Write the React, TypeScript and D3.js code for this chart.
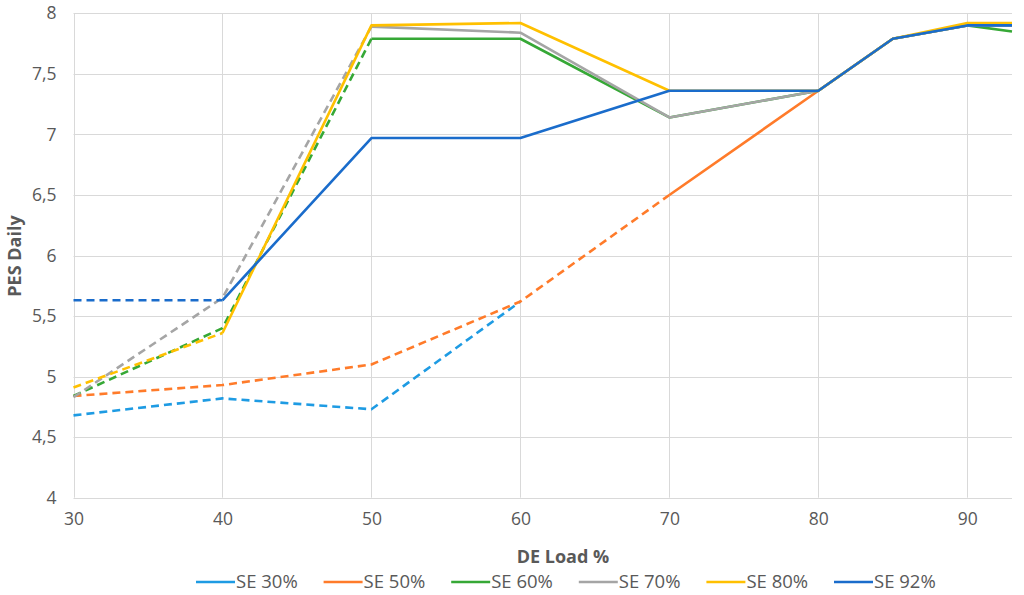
import { useEffect, useRef } from 'react';
import * as d3 from 'd3';

// DE load (%) at which every series was evaluated
const loads = [30, 40, 50, 60, 70, 80, 85, 90, 93];

// PES Daily per SE level (SE 30% only read up to 60 %)
const se30 = [4.68, 4.82, 4.73, 5.62];
const se50 = [4.84, 4.93, 5.1, 5.62, 6.5, 7.36, 7.79, 7.9, 7.9];
const se60 = [4.84, 5.4, 7.79, 7.79, 7.14, 7.36, 7.79, 7.9, 7.85];
const se70 = [4.83, 5.65, 7.89, 7.84, 7.14, 7.36, 7.79, 7.9, 7.9];
const se80 = [4.91, 5.36, 7.9, 7.92, 7.36, 7.36, 7.79, 7.92, 7.92];
const se92 = [5.63, 5.63, 6.97, 6.97, 7.36, 7.36, 7.79, 7.9, 7.9];

const seriesNames = ['SE 30%', 'SE 50%', 'SE 60%', 'SE 70%', 'SE 80%', 'SE 92%'];
const seriesValues = [se30, se50, se60, se70, se80, se92];
// load from which each curve is drawn solid (dashed before it)
const solidFrom = [70, 70, 50, 50, 40, 40];
const seriesColors = ['#1E9BE3', '#FF7B2A', '#36A836', '#A5A5A5', '#FFC000', '#1A6CCB'];

const xTicks = [30, 40, 50, 60, 70, 80, 90];
const yTicks = [4, 4.5, 5, 5.5, 6, 6.5, 7, 7.5, 8];

const FONT = '"Open Sans", "Noto Sans", sans-serif';
const TEXT = '#595959';
const GRID = '#D9D9D9';

export default function App() {
  const svgRef = useRef<SVGSVGElement>(null);
  const width = 1024;
  const height = 595;

  useEffect(() => {
    if (!svgRef.current) return;
    const svg = d3.select(svgRef.current);
    svg.selectAll('*').remove();

    const plot = { left: 73.5, right: 1012, top: 13.3, bottom: 497.7 };

    const x = d3.scaleLinear().domain([30, 93]).range([plot.left, plot.right]);
    const y = d3.scaleLinear().domain([4, 8]).range([plot.bottom, plot.top]);

    const locale = d3.formatLocale({
      decimal: ',',
      thousands: '.',
      grouping: [3],
      currency: ['', ''],
    });
    const fmt = locale.format('~g');

    // gridlines
    const grid = svg.append('g');
    grid
      .selectAll('line.h')
      .data(yTicks)
      .enter()
      .append('line')
      .attr('x1', plot.left)
      .attr('x2', plot.right)
      .attr('y1', (d) => Math.round(y(d)) + 0.5)
      .attr('y2', (d) => Math.round(y(d)) + 0.5)
      .attr('stroke', GRID)
      .attr('stroke-width', 1);
    grid
      .selectAll('line.v')
      .data(xTicks)
      .enter()
      .append('line')
      .attr('x1', (d) => Math.round(x(d)) + 0.5)
      .attr('x2', (d) => Math.round(x(d)) + 0.5)
      .attr('y1', plot.top)
      .attr('y2', plot.bottom)
      .attr('stroke', GRID)
      .attr('stroke-width', 1);

    // axes (labels only)
    const yAxis = svg
      .append('g')
      .attr('transform', `translate(${plot.left},0)`)
      .call(d3.axisLeft(y).tickValues(yTicks).tickFormat((d) => fmt(d as number)).tickSize(0).tickPadding(17));
    yAxis.select('.domain').remove();
    yAxis
      .selectAll('text')
      .attr('fill', TEXT)
      .style('font-family', FONT)
      .style('font-size', '17.5px');

    const xAxis = svg
      .append('g')
      .attr('transform', `translate(0,${plot.bottom})`)
      .call(d3.axisBottom(x).tickValues(xTicks).tickFormat((d) => fmt(d as number)).tickSize(0).tickPadding(15));
    xAxis.select('.domain').remove();
    xAxis
      .selectAll('text')
      .attr('fill', TEXT)
      .style('font-family', FONT)
      .style('font-size', '17.5px');

    // series
    const line = d3
      .line<[number, number]>()
      .x((d) => x(d[0]))
      .y((d) => y(d[1]));

    const lines = svg.append('g').attr('fill', 'none');
    seriesValues.forEach((vals, i) => {
      const pts: [number, number][] = vals.map((v, j) => [loads[j], v]);
      const dashed = pts.filter((p) => p[0] <= solidFrom[i]);
      const solid = pts.filter((p) => p[0] >= solidFrom[i]);
      if (dashed.length > 1) {
        lines
          .append('path')
          .attr('d', line(dashed))
          .attr('stroke', seriesColors[i])
          .attr('stroke-width', 2.6)
          .attr('stroke-dasharray', '8,5')
          .attr('stroke-linejoin', 'round');
      }
      if (solid.length > 1) {
        lines
          .append('path')
          .attr('d', line(solid))
          .attr('stroke', seriesColors[i])
          .attr('stroke-width', 2.6)
          .attr('stroke-linejoin', 'round');
      }
    });

    // axis titles
    svg
      .append('text')
      .attr('x', 563)
      .attr('y', 563)
      .attr('text-anchor', 'middle')
      .attr('fill', TEXT)
      .style('font-family', FONT)
      .style('font-weight', 'bold')
      .style('font-size', '18px')
      .text('DE Load %');

    svg
      .append('text')
      .attr('transform', 'translate(21,256) rotate(-90)')
      .attr('text-anchor', 'middle')
      .attr('fill', TEXT)
      .style('font-family', FONT)
      .style('font-weight', 'bold')
      .style('font-size', '18px')
      .text('PES Daily');

    // legend
    const legendX = d3.scalePoint<string>().domain(seriesNames).range([196, 834]);
    const legend = svg
      .append('g')
      .selectAll('g')
      .data(seriesNames)
      .enter()
      .append('g')
      .attr('transform', (d) => `translate(${legendX(d)},582)`);
    legend
      .append('line')
      .attr('x1', 0)
      .attr('x2', 39)
      .attr('stroke', (_d, i) => seriesColors[i])
      .attr('stroke-width', 2.6);
    legend
      .append('text')
      .attr('x', 40)
      .attr('dy', '0.35em')
      .attr('fill', TEXT)
      .style('font-family', FONT)
      .style('font-size', '18.5px')
      .text((d) => d);
  }, []);

  return (
    <svg
      ref={svgRef}
      width={width}
      height={height}
      viewBox={`0 0 ${width} ${height}`}
      style={{ position: 'absolute', left: 0, top: 0, background: '#fff' }}
    />
  );
}
